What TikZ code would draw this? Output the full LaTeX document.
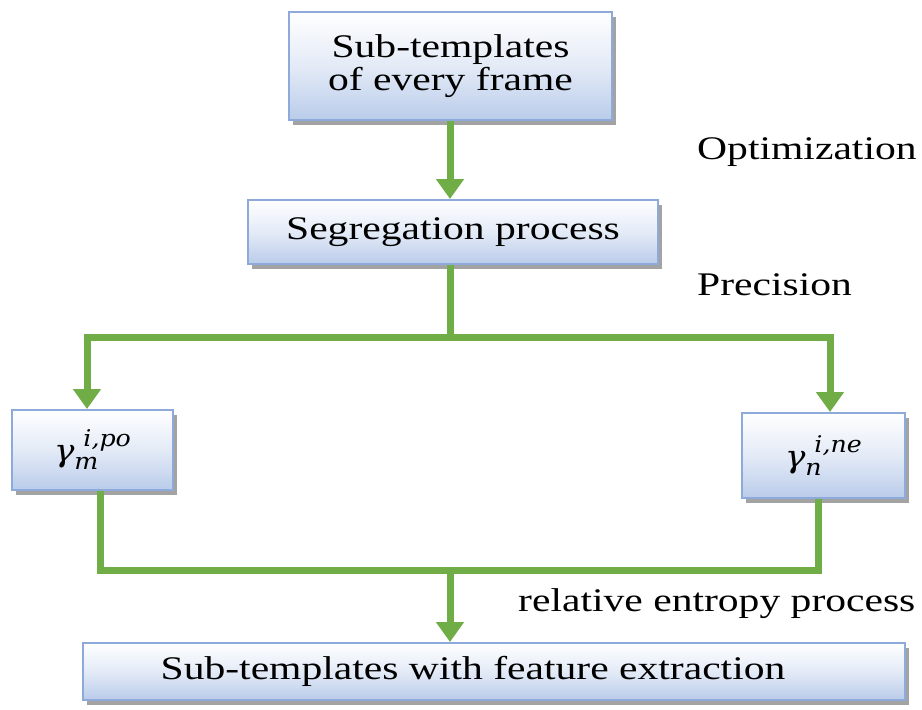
\documentclass[tikz,border=0pt]{standalone}
\usepackage{fontspec}
\setmainfont[FakeStretch=1.26]{Liberation Serif}
\newfontfamily\symfont[FakeStretch=1.1]{DejaVu Serif}
\usetikzlibrary{arrows.meta,shadows}
\definecolor{flowgreen}{RGB}{112,173,71}
\definecolor{boxedge}{RGB}{142,170,219}
\definecolor{boxbottom}{RGB}{186,204,234}
% italic symbol with a lowered subscript and a raised superscript
\newcommand{\scriptedSym}[3]{{\symfont\itshape\fontsize{31}{36}\selectfont #1%
  \rlap{\raisebox{-8pt}{\fontsize{23}{28}\selectfont #2}}\hspace{9pt}%
  \raisebox{15pt}{\fontsize{23}{28}\selectfont #3}}}
\tikzset{
  x=1pt, y=-1pt,
  flowbox/.style={draw=boxedge, line width=2pt, top color=white, bottom color=boxbottom,
    middle color=white!60!boxbottom, shading angle=0,
    drop shadow={shadow xshift=4pt, shadow yshift=-5pt, fill=black!45, opacity=0.8},
    inner sep=0pt, font=\fontsize{33}{33}\selectfont, align=center},
  flowline/.style={draw=flowgreen, line width=7pt},
  flowarrow/.style={flowline, -{Triangle[width=27pt,length=20pt]}},
  sidelabel/.style={anchor=west, inner sep=0pt, font=\fontsize{33}{33}\selectfont},
}
\begin{document}
\begin{tikzpicture}
\useasboundingbox (0,0) rectangle (922,710);
% boxes
\node[flowbox, minimum width=323pt, minimum height=108pt] (frames) at (450.5,66) {Sub-templates\\of every frame};
\node[flowbox, minimum width=410pt, minimum height=64pt] (segr) at (453,232) {Segregation process};
\node[flowbox, minimum width=161pt, minimum height=80pt] (pos) at (92.5,450) {\scriptedSym{γ}{m}{i,po}};
\node[flowbox, minimum width=163pt, minimum height=85pt] (neg) at (823.5,455.5) {\scriptedSym{γ}{n}{i,ne}};
\node[flowbox, minimum width=822pt, minimum height=57pt] (out) at (494,671.5) {\hspace*{-42pt}Sub-templates with feature extraction};
% side labels
\node[sidelabel] (lopt) at (697,152) {Optimization};
\node[sidelabel] (lprec) at (697,285) {Precision};
\node[sidelabel] (lrel) at (518,604) {relative entropy process};
% junction points
\coordinate (split) at (450,337);
\coordinate (splitL) at (87,337);
\coordinate (splitR) at (830,337);
\coordinate (joinL) at (100,570);
\coordinate (joinR) at (818,570);
\coordinate (join) at (450,570);
% connectors
\draw[flowarrow] (frames.south -| 450,0) -- (segr.north -| 450,0);
\draw[flowline] (segr.south -| split) -- (split);
\draw[flowline, line cap=rect] (splitL) -- (splitR);
\draw[flowarrow] (splitL) -- (pos.north -| splitL);
\draw[flowarrow] (splitR) -- (neg.north -| splitR);
\draw[flowline] (pos.south -| joinL) -- (joinL) -- (joinR) -- (neg.south -| joinR);
\draw[flowarrow] (join) -- (out.north -| join);
\end{tikzpicture}
\end{document}
